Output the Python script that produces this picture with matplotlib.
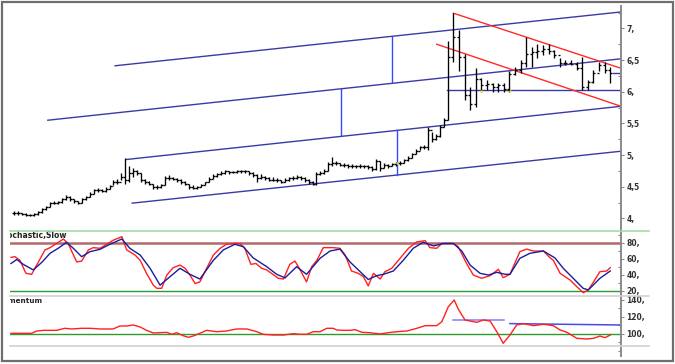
import matplotlib
matplotlib.use("Agg")
import matplotlib.pyplot as plt
from matplotlib.lines import Line2D
from matplotlib.patches import Rectangle
from matplotlib.ticker import FixedLocator, FixedFormatter, MultipleLocator

# ---- price bars (high / low / close), open = previous close ----
bar_high = [4.11, 4.11, 4.09, 4.09, 4.07, 4.08, 4.12, 4.16, 4.20, 4.26,
            4.28, 4.28, 4.32, 4.37, 4.35, 4.31, 4.28, 4.32, 4.36, 4.41,
            4.47, 4.48, 4.47, 4.49, 4.53, 4.60, 4.62, 4.71, 4.95, 4.82,
            4.80, 4.77, 4.72, 4.62, 4.59, 4.55, 4.52, 4.54, 4.67, 4.68,
            4.66, 4.64, 4.62, 4.59, 4.54, 4.52, 4.51, 4.54, 4.58, 4.65,
            4.70, 4.72, 4.74, 4.76, 4.75, 4.75, 4.77, 4.77, 4.77, 4.75,
            4.73, 4.70, 4.70, 4.67, 4.65, 4.65, 4.63, 4.61, 4.64, 4.66,
            4.67, 4.69, 4.67, 4.65, 4.62, 4.59, 4.73, 4.75, 4.78, 4.89,
            4.97, 4.90, 4.88, 4.87, 4.86, 4.86, 4.85, 4.86, 4.85, 4.84,
            4.82, 4.93, 4.90, 4.88, 4.86, 4.88, 4.89, 4.90, 4.94, 4.98,
            5.03, 5.10, 5.15, 5.16, 5.45, 5.37, 5.33, 5.47, 5.58, 6.80,
            7.24, 6.98, 6.60, 6.08, 6.37, 6.21, 6.18, 6.13, 6.13, 6.14,
            6.32, 6.39, 6.50, 6.87, 6.71, 6.76, 6.74, 6.76, 6.66, 6.53,
            6.50, 6.50, 6.47, 6.55, 6.18, 6.34, 6.47, 6.47, 6.39]
bar_low = [4.06, 4.06, 4.05, 4.04, 4.03, 4.04, 4.06, 4.09, 4.13, 4.18,
           4.22, 4.22, 4.25, 4.29, 4.27, 4.24, 4.22, 4.25, 4.29, 4.34,
           4.39, 4.41, 4.41, 4.42, 4.46, 4.52, 4.54, 4.60, 4.55, 4.58,
           4.66, 4.69, 4.58, 4.55, 4.52, 4.47, 4.46, 4.48, 4.52, 4.60,
           4.60, 4.58, 4.55, 4.52, 4.47, 4.46, 4.47, 4.49, 4.52, 4.57,
           4.62, 4.66, 4.68, 4.70, 4.70, 4.71, 4.72, 4.72, 4.71, 4.68,
           4.65, 4.58, 4.62, 4.61, 4.59, 4.59, 4.58, 4.56, 4.58, 4.59,
           4.61, 4.62, 4.60, 4.58, 4.54, 4.52, 4.52, 4.68, 4.70, 4.74,
           4.82, 4.84, 4.82, 4.81, 4.80, 4.80, 4.79, 4.80, 4.79, 4.78,
           4.75, 4.76, 4.75, 4.80, 4.80, 4.82, 4.83, 4.85, 4.88, 4.91,
           4.95, 5.01, 5.08, 5.10, 5.08, 5.21, 5.24, 5.29, 5.45, 5.55,
           6.47, 6.33, 5.87, 5.71, 5.76, 6.00, 6.02, 6.00, 6.00, 6.00,
           6.00, 6.26, 6.29, 6.39, 6.39, 6.53, 6.58, 6.60, 6.53, 6.39,
           6.42, 6.42, 6.34, 6.03, 6.03, 6.13, 6.32, 6.29, 6.13]
bar_close = [4.09, 4.08, 4.07, 4.06, 4.05, 4.07, 4.10, 4.14, 4.18, 4.24,
             4.25, 4.26, 4.30, 4.34, 4.30, 4.27, 4.25, 4.30, 4.34, 4.39,
             4.44, 4.45, 4.43, 4.47, 4.51, 4.57, 4.58, 4.66, 4.60, 4.72,
             4.75, 4.72, 4.60, 4.57, 4.55, 4.49, 4.49, 4.52, 4.64, 4.64,
             4.62, 4.60, 4.58, 4.55, 4.50, 4.48, 4.50, 4.52, 4.57, 4.62,
             4.67, 4.70, 4.72, 4.74, 4.73, 4.73, 4.75, 4.75, 4.74, 4.71,
             4.68, 4.64, 4.66, 4.63, 4.61, 4.61, 4.60, 4.58, 4.61, 4.63,
             4.64, 4.66, 4.63, 4.61, 4.57, 4.55, 4.70, 4.72, 4.74, 4.86,
             4.88, 4.87, 4.85, 4.84, 4.83, 4.83, 4.82, 4.83, 4.82, 4.81,
             4.78, 4.90, 4.80, 4.84, 4.83, 4.86, 4.87, 4.88, 4.92, 4.96,
             5.01, 5.07, 5.12, 5.13, 5.40, 5.25, 5.30, 5.44, 5.55, 6.55,
             6.87, 6.55, 5.95, 5.80, 6.20, 6.10, 6.12, 6.07, 6.10, 6.05,
             6.28, 6.35, 6.45, 6.60, 6.62, 6.65, 6.68, 6.64, 6.58, 6.45,
             6.46, 6.44, 6.38, 6.08, 6.15, 6.30, 6.42, 6.35, 6.30]

# bar times: 110 bars on a unit step, the last 29 bars on a wider step
bar_time = list(range(110)) + [109 + 1.407 * k for k in range(1, 30)]

# ---- drawing tools on the price panel (time, price) ----
channel_lines = [((25.4, 6.41), (152.5, 7.26)),
                 ((8.5, 5.55), (152.5, 6.52)),
                 ((28.3, 4.93), (152.5, 5.77)),
                 ((29.7, 4.24), (152.5, 5.06))]
pitch_handles = [(94.9, 6.87, 6.16), (82.2, 6.04, 5.32), (96.2, 5.39, 4.68)]
support_line = ((108.9, 6.02), (152.5, 6.02))
red_lines = [((110.4, 7.24), (152.5, 6.37)),
             ((106.2, 6.75), (152.5, 5.77))]
yellow_dots_t = [96.2, 117.3, 124.6]
yellow_dots_v = [4.87, 6.01, 6.01]

# ---- stochastic slow ----
k_t = [-0.75, 0.25, 1.5, 3.0, 4.45, 5.7, 7.8, 9.05, 10.7, 12.4, 13.6, 15.75,
       17.0, 18.7, 19.9, 21.6, 23.3, 24.9, 27.1, 28.3, 30.4, 31.7, 33.3, 35.0,
       35.9, 37.1, 38.4, 40.0, 41.7, 43.0, 44.2, 45.5, 46.7, 48.4, 50.1, 51.8,
       53.4, 55.1, 56.8, 58.0, 59.5, 60.8, 62.2, 63.5, 64.7, 66.4, 67.7, 69.3,
       70.6, 71.9, 73.5, 74.8, 76.1, 77.7, 80.2, 81.9, 83.2, 84.8, 86.5, 87.8,
       89.0, 90.3, 92.0, 93.2, 94.9, 97.0, 99.1, 101.2, 103.3, 104.5, 106.2,
       107.5, 110.4, 111.6, 113.7, 115.4, 117.5, 119.6, 121.7, 122.9, 124.6,
       127.1, 128.8, 130.5, 133.0, 134.7, 135.5, 137.2, 139.7, 141.4, 143.0,
       144.3, 145.6, 147.2, 148.9, 149.8]
k_v = [61.7, 62.5, 58, 41.7, 40.5, 52, 71, 73.8, 79, 84.6, 79, 56,
       57, 71, 73.8, 73, 78, 83, 87.5, 71, 64.6, 58, 41.7, 27,
       23, 23, 39.6, 48.8, 52, 48, 39.6, 29, 31, 48, 64.6, 73,
       78, 79, 79, 73, 53, 54, 48, 45.9, 41.7, 35.5, 34.6, 53,
       57, 45.9, 31, 50, 58, 73.8, 73.8, 73, 64.6, 44.6, 41.7, 37.5,
       26, 41.7, 34.6, 43.8, 48, 60.5, 73, 81, 82.5, 73.8, 73,
       79, 79, 75, 54, 39.6, 35.5, 38.8, 46.7, 36.3, 40.5,
       68.8, 72, 69.6, 69.6, 61, 58, 41.7, 33.4, 25, 17.5,
       21, 31, 43.8, 44.6, 48.8]
d_t = [-0.75, 0.7, 2.3, 4.85, 7.0, 9.05, 11.1, 13.2, 14.9, 17.0, 19.1, 21.6,
       24.1, 27.1, 29.1, 31.7, 34.2, 36.7, 39.2, 41.7, 44.2, 46.7, 50.1, 52.6,
       55.5, 57.6, 60.1, 63.5, 66.0, 68.1, 71.0, 73.5, 76.9, 79.4, 81.9, 84.4,
       87.4, 89.0, 91.1, 92.8, 95.3, 97.8, 100.3, 102.8, 105.4, 107.9, 110.4,
       112.5, 114.6, 117.1, 119.2, 121.3, 123.4, 124.6, 127.1, 129.6, 133.0,
       135.9, 138.0, 140.5, 143.0, 144.3, 147.2, 149.8]
d_v = [54, 59, 53, 46, 55.5, 66.7, 73, 80.5, 73, 62.5, 68.8, 71.7,
       78, 84.6, 73, 64.6, 48, 27, 37.5, 48, 40.5, 34.6, 58, 71,
       78, 75, 61, 50, 40.5, 36, 50, 40.5, 60.5, 69.6, 72, 56,
       41.7, 34, 38.8, 40.5, 44.6, 58, 73, 80.5, 76, 79, 79,
       69.6, 52, 41.7, 39.6, 43, 40.5, 40.5, 60.5, 66.7, 69.6,
       61, 48, 35.5, 23, 21, 35.5, 44.6]

# ---- momentum ----
mom_t = [-0.75, 4.45, 5.7, 7.4, 10.7, 12.8, 14.5, 17.0, 19.1, 21.6, 24.9, 26.6,
         28.3, 30.0, 31.7, 33.3, 35.0, 38.4, 39.6, 40.9, 42.5, 43.8, 45.0, 46.7,
         48.4, 50.9, 53.4, 55.9, 58.5, 61.0, 62.6, 65.2, 67.7, 70.2, 71.9, 73.5,
         75.2, 76.9, 78.6, 80.2, 81.1, 82.7, 84.4, 85.7, 87.4, 89.4, 92.0, 94.0,
         96.2, 98.7, 101.2, 103.3, 106.2, 107.5, 109.1, 110.6, 111.6, 113.3,
         116.3, 117.9, 119.6, 121.3, 122.9, 124.6, 126.3, 128.0, 130.5, 133.0,
         135.5, 137.2, 138.9, 141.4, 143.9, 145.6, 147.2, 148.5, 149.8]
mom_v = [100.8, 100.8, 103.5, 104.3, 104.3, 106.7, 105.9, 106.7, 106.7, 105.9,
         105.9, 109.4, 109.4, 110.6, 108.2, 104.3, 101.2, 101.9, 99.6, 101.5,
         98, 96.1, 97.6, 100.8, 104.3, 102.7, 103.5, 105.9, 105.9, 102.7,
         99.6, 98.8, 98.8, 100.4, 99.6, 99.6, 102.7, 102.7, 106.7, 106.7,
         104.7, 104.3, 104.3, 105.1, 102, 101.5, 100, 101.5, 102.7, 103.5,
         106.7, 109.8, 109.8, 114.5, 132, 140, 129.4, 116.5, 113.7, 116.5,
         115.3, 102.7, 89, 98.8, 110.6, 112.2, 109.8, 111.4, 109.8, 104.7,
         102, 94.9, 94.1, 94.9, 97.6, 95.7, 98.8]
mom_levels = [((110.4, 116.5), (123.1, 116.5), "#8080ff"),
              ((124.6, 112.2), (152.5, 110.6), "#4a4ae8")]

price_ticks = [4, 4.5, 5, 5.5, 6, 6.5, 7]
price_labels = ["4,", "4,5", "5,", "5,5", "6,", "6,5", "7,"]
stoch_ticks = [20, 40, 60, 80]
stoch_labels = ["20,", "40,", "60,", "80,"]
mom_ticks = [100, 120, 140]
mom_labels = ["100,", "120,", "140,"]

W, H = 675, 364
fig = plt.figure(figsize=(W / 100, H / 100), dpi=100)


def px_axes(left, top, right, bottom):
    return fig.add_axes([left / W, 1 - bottom / H, (right - left) / W, (bottom - top) / H])


ax_p = px_axes(10, 6, 621, 231)
ax_s = px_axes(10, 231, 621, 296)
ax_m = px_axes(10, 296, 621, 356)

setup = [(ax_p, (3.80, 7.354), price_ticks, price_labels, 0.25),
         (ax_s, (13.4, 94.6), stoch_ticks, stoch_labels, 10),
         (ax_m, (74.1, 144.7), mom_ticks, mom_labels, 10)]
for ax, ylim, ticks, labels, minor in setup:
    ax.set_xlim(-1.0, 152.5)
    ax.set_ylim(*ylim)
    ax.set_xticks([])
    for side in ["top", "left", "bottom"]:
        ax.spines[side].set_visible(False)
    ax.spines["right"].set_color("#8a8a8a")
    ax.spines["right"].set_linewidth(1.4)
    ax.yaxis.tick_right()
    ax.yaxis.set_major_locator(FixedLocator(ticks))
    ax.yaxis.set_major_formatter(FixedFormatter(labels))
    ax.yaxis.set_minor_locator(MultipleLocator(minor))
    ax.tick_params(axis="y", which="major", direction="out", length=2.5,
                   width=0.8, color="#8a8a8a", pad=1.5, labelsize=5.5,
                   labelcolor="#333333")
    ax.tick_params(axis="y", which="minor", direction="in", length=2.5,
                   width=0.8, color="#8a8a8a")
    for lab in ax.get_yticklabels():
        lab.set_fontweight("bold")
    ax.patch.set_alpha(0)

# ---- price panel ----
for (t0, v0), (t1, v1) in channel_lines:
    ax_p.plot([t0, t1], [v0, v1], color="#3a3aa6", lw=1.0, zorder=2)
for t, v_top, v_bot in pitch_handles:
    ax_p.plot([t, t], [v_top, v_bot], color="#2f4cff", lw=1.0, zorder=2)
ax_p.plot([support_line[0][0], support_line[1][0]],
          [support_line[0][1], support_line[1][1]], color="#3a3aa6", lw=1.0, zorder=2)
for (t0, v0), (t1, v1) in red_lines:
    ax_p.plot([t0, t1], [v0, v1], color="#ff2a2a", lw=1.0, zorder=2)

bar_open = [bar_close[0]] + bar_close[:-1]
ax_p.vlines(bar_time, bar_low, bar_high, color="black", lw=0.95, zorder=3)
ax_p.hlines(bar_open, [t - 0.5 for t in bar_time], bar_time, color="black", lw=0.95, zorder=3)
ax_p.hlines(bar_close, bar_time, [t + 0.5 for t in bar_time], color="black", lw=0.95, zorder=3)
ax_p.plot([150.4, 152.5], [6.30, 6.30], color="#3a3aa6", lw=1.0, zorder=2)
ax_p.scatter(yellow_dots_t, yellow_dots_v, s=3, color="#ffee00", zorder=4, linewidths=0)

# ---- stochastic panel ----
ax_s.axhline(80, color="#b26a6a", lw=1.8, zorder=1)
ax_s.axhline(20, color="#2f9a2f", lw=1.0, zorder=1)
ax_s.plot(k_t, k_v, color="#ff2020", lw=1.0, zorder=3)
ax_s.plot(d_t, d_v, color="#1c1c9c", lw=1.0, zorder=3)
ax_s.text(-3.8, 88.7, "Stochastic,Slow", fontsize=5.5, fontweight="bold",
          va="center", ha="left", color="#222222", clip_on=True)

# ---- momentum panel ----
ax_m.axhline(100, color="#2f9a2f", lw=1.0, zorder=1)
for (t0, v0), (t1, v1), col in mom_levels:
    ax_m.plot([t0, t1], [v0, v1], color=col, lw=1.1, zorder=2)
ax_m.plot(mom_t, mom_v, color="#ff2020", lw=1.0, zorder=3)
ax_m.text(-4.3, 139.2, "Momentum", fontsize=5.2, fontweight="bold",
          va="center", ha="left", color="#222222", clip_on=True)

# ---- panel separators and outer frame ----
for y, col in [(231, "#a6dca6"), (296, "#d2d2d2"), (346, "#d2d2d2")]:
    fig.add_artist(Line2D([10 / W, 649 / W], [1 - y / H, 1 - y / H],
                          color=col, lw=1.2, transform=fig.transFigure))
fig.add_artist(Rectangle((2 / W, 3 / H), 671 / W, 359 / H, fill=False,
                         edgecolor="#6e6e6e", lw=1.6, transform=fig.transFigure))

fig.savefig("out.png", dpi=100)
